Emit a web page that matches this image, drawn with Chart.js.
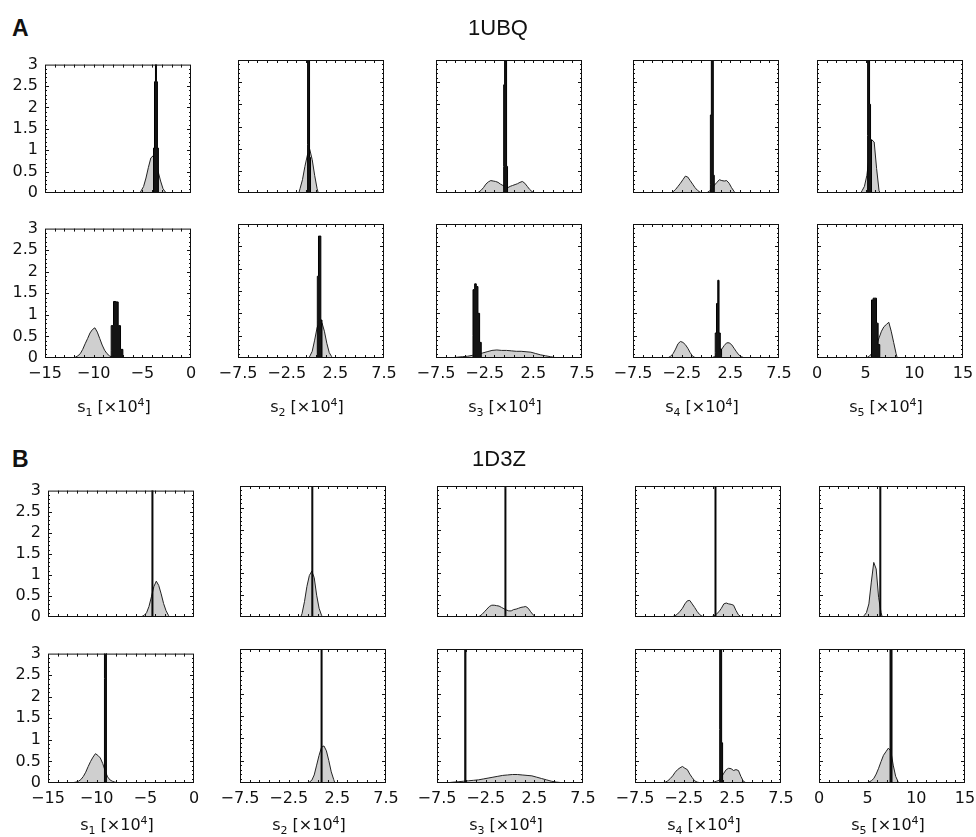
<!DOCTYPE html>
<html>
<head>
<meta charset="utf-8">
<script src="https://cdn.jsdelivr.net/npm/chart.js@4.4.1/dist/chart.umd.min.js"></script>
<style>
  body { margin: 0; background: #fff; }
  #page { position: relative; width: 976px; height: 837px; overflow: hidden; font-family: 'DejaVu Sans', sans-serif; color: #111; }
  canvas { position: absolute; }
  .tag { position: absolute; font-family: 'Liberation Sans', Arial, sans-serif; font-weight: bold; font-size: 23px; line-height: 23px; }
  .name { position: absolute; width: 200px; text-align: center; font-family: 'Liberation Sans', Arial, sans-serif; font-size: 22px; line-height: 22px; }
  .xt { position: absolute; width: 160px; text-align: center; font-size: 16px; line-height: 20px; white-space: nowrap; }
  .xt sub, .xt sup { font-size: 11px; line-height: 0; }
</style>
</head>
<body>
<div id="page"></div>
<script>
// axis ranges per column (s1..s5), units of 10^4
const X_MIN = [-15, -7.5, -7.5, -7.5, 0];
const X_MAX = [0, 7.5, 7.5, 7.5, 15];
const X_TICKS = [
  [-15, -10, -5, 0],
  [-7.5, -2.5, 2.5, 7.5],
  [-7.5, -2.5, 2.5, 7.5],
  [-7.5, -2.5, 2.5, 7.5],
  [0, 5, 10, 15]
];
const Y_TICKS = [0, 0.5, 1, 1.5, 2, 2.5, 3];
const PROTEINS = ['1UBQ', '1D3Z'];
const TAGS = ['A', 'B'];

// 1UBQ, upper row: gray = wide distribution, black = narrow one
const UBQ1_GRAY_START = [-5.25, -1.25, -3.25, -3.5, 4.5];
const UBQ1_GRAY_BIN = [0.25, 0.25, 0.25, 0.25, 0.25];
const UBQ1_GRAY = [
  [0.05, 0.15, 0.35, 0.6, 0.82, 0.87, 0.72, 0.5, 0.28, 0.1, 0.02],
  [0.1, 0.3, 0.6, 0.85, 0.98, 0.75, 0.4, 0.1],
  [0.02, 0.06, 0.12, 0.2, 0.25, 0.28, 0.27, 0.26, 0.24, 0.2, 0.17, 0.14, 0.12, 0.15, 0.17, 0.19, 0.21, 0.24, 0.26, 0.22, 0.15, 0.08, 0.03, 0.01],
  [0.03, 0.08, 0.15, 0.22, 0.3, 0.38, 0.36, 0.28, 0.2, 0.12, 0.06, 0.02, 0, 0, 0.01, 0.05, 0.1, 0.18, 0.24, 0.3, 0.28, 0.27, 0.28, 0.22, 0.12, 0.04],
  [0.05, 0.15, 0.4, 0.85, 1.2, 1.15, 0.55, 0.05]
];
const UBQ1_BLACK_START = [-3.85, -0.35, -0.55, 0.45, 5.2];
const UBQ1_BLACK_BIN = [0.1, 0.1, 0.1, 0.1, 0.1];
const UBQ1_BLACK = [
  [1.05, 1.05, 2.6, 3.6, 2.6, 1.05],
  [1.1, 3.6, 3.6, 0.8],
  [0.6, 2.44, 3.6, 3.6, 0.6],
  [0.2, 1.76, 3.6, 3.6, 0.4],
  [1.3, 3.6, 3.6, 2.0, 1.2]
];

// 1UBQ, lower row
const UBQ2_GRAY_START = [-12.0, -0.25, -6.0, -4.0, 5.0];
const UBQ2_GRAY_BIN = [0.25, 0.25, 0.5, 0.25, 0.25];
const UBQ2_GRAY = [
  [0.02, 0.05, 0.1, 0.2, 0.33, 0.45, 0.58, 0.66, 0.7, 0.6, 0.45, 0.3, 0.18, 0.1, 0.05, 0.02, 0.01],
  [0.04, 0.15, 0.4, 0.68, 0.8, 0.79, 0.6, 0.33, 0.12, 0.03],
  [0.01, 0.02, 0.03, 0.04, 0.06, 0.08, 0.11, 0.14, 0.17, 0.18, 0.17, 0.17, 0.16, 0.15, 0.15, 0.14, 0.13, 0.1, 0.07, 0.05, 0.03, 0.01],
  [0.01, 0.04, 0.1, 0.2, 0.32, 0.37, 0.35, 0.3, 0.22, 0.12, 0.04, 0.01, 0, 0, 0, 0, 0, 0, 0.01, 0.03, 0.07, 0.13, 0.2, 0.28, 0.34, 0.34, 0.3, 0.22, 0.14, 0.07, 0.03, 0.01],
  [0.01, 0.04, 0.1, 0.2, 0.3, 0.45, 0.6, 0.7, 0.75, 0.8, 0.6, 0.35, 0.1]
];
const UBQ2_BLACK_START = [-8.2, 0.65, -3.7, 0.95, 5.6];
const UBQ2_BLACK_BIN = [0.24, 0.12, 0.17, 0.13, 0.17];
const UBQ2_BLACK = [
  [0.18, 0.75, 1.31, 1.3, 0.75, 0.2],
  [0.85, 1.83, 2.73, 2.73, 0.85],
  [0.5, 1.53, 1.66, 1.6, 1.0, 0.35],
  [0.12, 0.56, 1.22, 1.74, 0.56, 0.2],
  [0.56, 1.3, 1.34, 1.34, 0.78, 0.3]
];

// 1D3Z, upper row
const D3Z1_GRAY_START = [-5.5, -1.25, -3.25, -3.75, 4.5];
const D3Z1_GRAY_BIN = [0.25, 0.25, 0.25, 0.25, 0.25];
const D3Z1_GRAY = [
  [0.01, 0.04, 0.1, 0.25, 0.48, 0.72, 0.85, 0.75, 0.55, 0.32, 0.15, 0.04],
  [0.08, 0.35, 0.7, 0.95, 1.05, 0.9, 0.5, 0.2, 0.04],
  [0.02, 0.06, 0.12, 0.18, 0.24, 0.27, 0.27, 0.26, 0.25, 0.22, 0.19, 0.16, 0.14, 0.14, 0.17, 0.18, 0.2, 0.22, 0.23, 0.24, 0.2, 0.12, 0.05, 0.01],
  [0.01, 0.03, 0.07, 0.13, 0.2, 0.3, 0.37, 0.38, 0.3, 0.22, 0.13, 0.06, 0.02, 0, 0, 0, 0.01, 0.03, 0.07, 0.12, 0.2, 0.3, 0.32, 0.3, 0.29, 0.27, 0.15, 0.05, 0.01],
  [0.03, 0.1, 0.3, 0.8, 1.25, 1.1, 0.45, 0.1]
];
const D3Z1_BLACK_START = [-4.32, -0.12, -0.52, 0.72, 6.25];
const D3Z1_BLACK_BIN = [0.1, 0.1, 0.1, 0.1, 0.1];
const D3Z1_BLACK = [
  [3.6, 3.6],
  [3.6, 3.6],
  [3.6, 3.6],
  [3.6, 3.6],
  [3.6, 3.6]
];

// 1D3Z, lower row
const D3Z2_GRAY_START = [-12.5, -0.5, -6.5, -4.75, 5.0];
const D3Z2_GRAY_BIN = [0.25, 0.25, 0.5, 0.25, 0.25];
const D3Z2_GRAY = [
  [0.01, 0.02, 0.04, 0.08, 0.15, 0.25, 0.38, 0.5, 0.6, 0.68, 0.64, 0.58, 0.45, 0.28, 0.14, 0.07, 0.04, 0.02, 0.01],
  [0.02, 0.06, 0.18, 0.4, 0.62, 0.8, 0.83, 0.72, 0.5, 0.25, 0.08],
  [0.01, 0.02, 0.03, 0.04, 0.05, 0.06, 0.07, 0.09, 0.11, 0.13, 0.15, 0.17, 0.18, 0.19, 0.19, 0.18, 0.17, 0.16, 0.13, 0.1, 0.07, 0.04, 0.02, 0.01],
  [0.01, 0.02, 0.05, 0.1, 0.16, 0.24, 0.3, 0.34, 0.37, 0.33, 0.3, 0.2, 0.12, 0.05, 0.02, 0.01, 0, 0, 0, 0, 0.01, 0.02, 0.04, 0.06, 0.13, 0.22, 0.3, 0.33, 0.32, 0.28, 0.3, 0.28, 0.15, 0.04, 0.01],
  [0.02, 0.05, 0.1, 0.2, 0.33, 0.48, 0.62, 0.7, 0.78, 0.72, 0.4, 0.15, 0.03]
];
const D3Z2_BLACK_START = [-9.2, 0.83, -4.65, 1.2, 7.3];
const D3Z2_BLACK_BIN = [0.1, 0.1, 0.12, 0.1, 0.1];
const D3Z2_BLACK = [
  [2.42, 3.6, 3.6],
  [3.6, 3.6],
  [3.6, 3.6],
  [1.2, 3.6, 3.6, 0.9],
  [1.5, 3.6, 3.6]
];

const ROWS = [
  { gs: UBQ1_GRAY_START, gb: UBQ1_GRAY_BIN, g: UBQ1_GRAY, bs: UBQ1_BLACK_START, bb: UBQ1_BLACK_BIN, b: UBQ1_BLACK },
  { gs: UBQ2_GRAY_START, gb: UBQ2_GRAY_BIN, g: UBQ2_GRAY, bs: UBQ2_BLACK_START, bb: UBQ2_BLACK_BIN, b: UBQ2_BLACK },
  { gs: D3Z1_GRAY_START, gb: D3Z1_GRAY_BIN, g: D3Z1_GRAY, bs: D3Z1_BLACK_START, bb: D3Z1_BLACK_BIN, b: D3Z1_BLACK },
  { gs: D3Z2_GRAY_START, gb: D3Z2_GRAY_BIN, g: D3Z2_GRAY, bs: D3Z2_BLACK_START, bb: D3Z2_BLACK_BIN, b: D3Z2_BLACK }
];

// page layout (pixels)
const PANEL_W = 146;
const ROW_TOP = [60, 224, 486, 649];
const ROW_H = [133, 134, 131, 134];
const COL_LEFT = [[45, 238, 436, 633, 817], [48, 240, 437, 635, 819]];
const PAD_L = 45, PAD_T = 12, PAD_R = 20, PAD_B = 30;

Chart.defaults.font.family = "'DejaVu Sans', sans-serif";
Chart.defaults.font.size = 16;
Chart.defaults.color = '#111';

// narrow histogram: bins -> stepped outline points
function stepBins(start, bin, heights) {
  const pts = [{ x: start, y: 0 }];
  heights.forEach((h, i) => pts.push({ x: start + i * bin, y: h }));
  pts.push({ x: start + heights.length * bin, y: 0 });
  return pts;
}

// wide histogram: bin centres joined, closed at both ends
function centreBins(start, bin, heights) {
  const pts = [{ x: start, y: 0 }];
  heights.forEach((h, i) => pts.push({ x: start + (i + 0.5) * bin, y: h }));
  pts.push({ x: start + heights.length * bin, y: 0 });
  return pts;
}

function fmt(v) {
  return v < 0 ? '\u2212' + (-v) : String(v);
}

// box + small inward ticks on all four sides
const framePlugin = {
  id: 'frame',
  afterDatasetsDraw(chart) {
    const { ctx, chartArea: a, scales: { x, y } } = chart;
    ctx.save();
    ctx.strokeStyle = '#111';
    ctx.lineWidth = 1;
    ctx.strokeRect(a.left + 0.5, a.top + 0.5, a.width - 1, a.height - 1);
    ctx.beginPath();
    const step = (x.max - x.min) / 15;
    for (let i = 1; i < 15; i++) {
      const px = Math.round(x.getPixelForValue(x.min + i * step)) + 0.5;
      ctx.moveTo(px, a.bottom); ctx.lineTo(px, a.bottom - 3);
      ctx.moveTo(px, a.top); ctx.lineTo(px, a.top + 3);
    }
    for (let i = 1; i < 30; i++) {
      const len = i % 5 === 0 ? 4 : 2;
      const py = Math.round(y.getPixelForValue(i / 10)) + 0.5;
      ctx.moveTo(a.left, py); ctx.lineTo(a.left + len, py);
      ctx.moveTo(a.right, py); ctx.lineTo(a.right - len, py);
    }
    ctx.stroke();
    ctx.restore();
  }
};

const page = document.getElementById('page');

function addDiv(cls, html, left, top) {
  const d = document.createElement('div');
  d.className = cls;
  d.innerHTML = html;
  d.style.left = left + 'px';
  d.style.top = top + 'px';
  page.appendChild(d);
}

function drawPanel(r, c) {
  const group = r < 2 ? 0 : 1;
  const left = COL_LEFT[group][c];
  const top = ROW_TOP[r];
  const h = ROW_H[r];
  const row = ROWS[r];
  const showX = r % 2 === 1;
  const showY = c === 0;

  const cv = document.createElement('canvas');
  cv.width = PANEL_W + PAD_L + PAD_R;
  cv.height = h + PAD_T + PAD_B;
  cv.style.left = (left - PAD_L) + 'px';
  cv.style.top = (top - PAD_T) + 'px';
  page.appendChild(cv);

  new Chart(cv, {
    type: 'line',
    data: {
      datasets: [
        {
          data: stepBins(row.bs[c], row.bb[c], row.b[c]),
          stepped: 'after',
          fill: 'origin',
          backgroundColor: '#141414',
          borderColor: '#000000',
          borderWidth: 1,
          pointRadius: 0
        },
        {
          data: centreBins(row.gs[c], row.gb[c], row.g[c]),
          fill: 'origin',
          backgroundColor: '#cfcfcf',
          borderColor: '#222222',
          borderWidth: 1,
          pointRadius: 0
        }
      ]
    },
    options: {
      responsive: false,
      animation: false,
      events: [],
      layout: { padding: { top: PAD_T, right: PAD_R, left: 0, bottom: 0 } },
      plugins: { legend: { display: false }, tooltip: { enabled: false } },
      scales: {
        x: {
          type: 'linear',
          min: X_MIN[c],
          max: X_MAX[c],
          grid: { display: false, drawTicks: false },
          border: { display: false },
          afterBuildTicks: s => { s.ticks = X_TICKS[c].map(v => ({ value: v })); },
          afterFit: s => { s.height = PAD_B; },
          ticks: { display: showX, padding: 6, maxRotation: 0, autoSkip: false, callback: v => fmt(v) }
        },
        y: {
          type: 'linear',
          min: 0,
          max: 3,
          grid: { display: false, drawTicks: false },
          border: { display: false },
          afterBuildTicks: s => { s.ticks = Y_TICKS.map(v => ({ value: v })); },
          afterFit: s => { s.width = PAD_L; },
          ticks: { display: showY, padding: 7, autoSkip: false, callback: v => String(v) }
        }
      }
    },
    plugins: [framePlugin]
  });

  if (showX) {
    const cy = group === 0 ? 407 : 825;
    addDiv('xt', 's<sub>' + (c + 1) + '</sub> [×10<sup>4</sup>]', left + PANEL_W / 2 - 4 - 80, cy - 10);
  }
}

for (let r = 0; r < 4; r++) {
  for (let c = 0; c < 5; c++) drawPanel(r, c);
}

addDiv('tag', TAGS[0], 12, 17);
addDiv('name', PROTEINS[0], 398, 17);
addDiv('tag', TAGS[1], 12, 448);
addDiv('name', PROTEINS[1], 399, 448);
</script>
</body>
</html>
